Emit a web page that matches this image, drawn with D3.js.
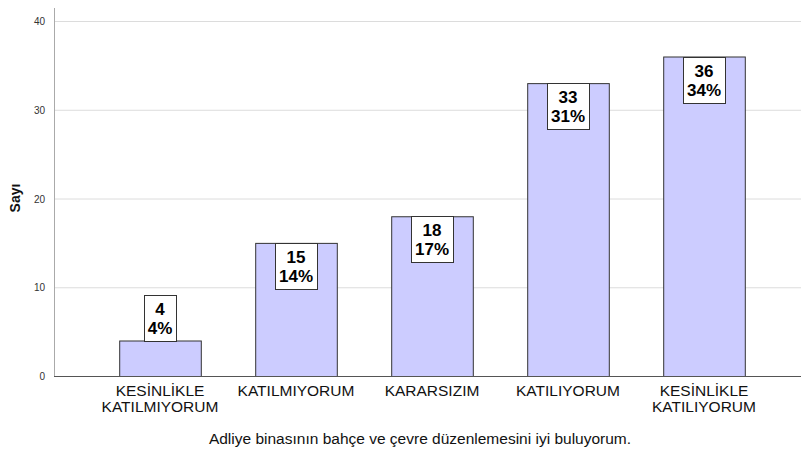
<!DOCTYPE html>
<html><head><meta charset="utf-8">
<script src="https://cdn.jsdelivr.net/npm/d3@7/dist/d3.min.js"></script>
<style>body{margin:0;background:#fff}svg{display:block}text{font-family:Arial,"Liberation Sans",sans-serif}</style>
</head><body><svg id="c" width="801" height="453"></svg>
<script>
const categories = [["KESİNLİKLE","KATILMIYORUM"],["KATILMIYORUM"],["KARARSIZIM"],["KATILIYORUM"],["KESİNLİKLE","KATILIYORUM"]];
const counts = [4, 15, 18, 33, 36];
const percents = ["4%", "14%", "17%", "31%", "34%"];
const yTicks = [0, 10, 20, 30, 40];
const yTitle = "Sayı";
const xTitle = "Adliye binasının bahçe ve çevre düzenlemesini iyi buluyorum.";

const svg = d3.select("#c");
const x0 = 54, y0 = 376;
const y = d3.scaleLinear().domain([0, 40]).range([376, 21]);
const x = d3.scaleBand().domain(d3.range(counts.length)).range([92, 772]).paddingInner(0.4).paddingOuter(0.2);

// gridlines
svg.append("g").selectAll("line").data(yTicks.filter(d=>d>0)).join("line")
  .attr("x1", x0).attr("x2", 801).attr("y1", d=>y(d)+0.5).attr("y2", d=>y(d)+0.5)
  .attr("stroke", "#dcdcdc").attr("stroke-width", 1);

// y axis
svg.append("line").attr("x1", x0+0.5).attr("x2", x0+0.5).attr("y1", 8).attr("y2", y0).attr("stroke", "#aaaaaa");
svg.append("g").selectAll("text").data(yTicks).join("text")
  .attr("x", 45).attr("y", d=>y(d)+4).attr("text-anchor","end")
  .attr("font-size", 10).attr("fill", "#333").text(d=>d);

// bars
svg.append("g").selectAll("rect").data(counts).join("rect")
  .attr("x", (d,i)=>x(i)+0.5).attr("y", d=>y(d)+0.5)
  .attr("width", x.bandwidth()).attr("height", d=>y(0)-y(d))
  .attr("fill", "#ccccff").attr("stroke", "#333").attr("stroke-width", 1);

// x axis line
svg.append("line").attr("x1", x0).attr("x2", 801).attr("y1", y0+0.5).attr("y2", y0+0.5).attr("stroke", "#555");

// labels
const lh = 46;
const lg = svg.append("g");
counts.forEach((d,i)=>{
  const cx = x(i) + x.bandwidth()/2;
  const bw = String(d).length > 1 ? 42 : 32;
  const barH = y(0) - y(d);
  const top = barH >= lh ? y(d) : y(d) - lh;
  lg.append("rect").attr("x", Math.round(cx - bw/2)+0.5).attr("y", Math.round(top)+0.5)
    .attr("width", bw).attr("height", lh).attr("fill", "#fff").attr("stroke", "#333");
  lg.append("text").attr("x", cx).attr("y", top+20).attr("text-anchor","middle")
    .attr("font-size", 17).attr("font-weight","bold").attr("fill","#000").text(d);
  lg.append("text").attr("x", cx).attr("y", top+39).attr("text-anchor","middle")
    .attr("font-size", 17).attr("font-weight","bold").attr("fill","#000").text(percents[i]);
});

// category labels
const cg = svg.append("g");
categories.forEach((lines,i)=>{
  const cx = x(i) + x.bandwidth()/2;
  lines.forEach((t,j)=>{
    cg.append("text").attr("x", cx).attr("y", 396 + j*15.5).attr("text-anchor","middle")
      .attr("font-size", 15.5).attr("fill","#111").text(t);
  });
});

// titles
svg.append("text").attr("transform","translate(20,198) rotate(-90)").attr("text-anchor","middle")
  .attr("font-size", 14).attr("font-weight","bold").attr("fill","#111").text(yTitle);
svg.append("text").attr("x", 420).attr("y", 444).attr("text-anchor","middle")
  .attr("font-size", 15.5).attr("fill","#111").text(xTitle);
</script></body></html>
